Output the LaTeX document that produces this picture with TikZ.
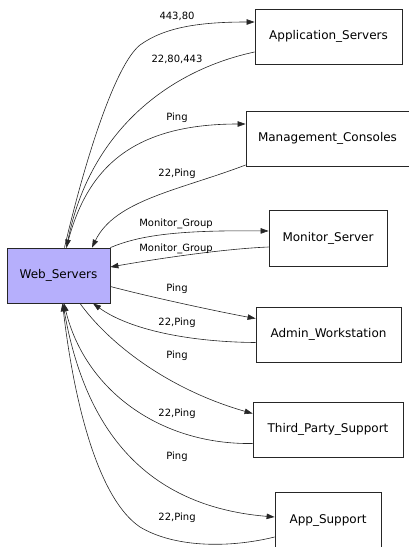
\documentclass[tikz,border=0pt]{standalone}
\usepackage{fontspec}
\setmainfont{DejaVu Sans}
\usetikzlibrary{arrows.meta}
\definecolor{webfill}{RGB}{182,175,252}

\begin{document}
\begin{tikzpicture}
        [x=1pt, y=-1pt,
        host/.style={draw=black!85, line width=0.8pt, minimum height=55pt, inner sep=0pt, font=\fontsize{12}{14}\selectfont},
        port/.style={font=\fontsize{10}{12}\selectfont, inner sep=1pt},
        link/.style={draw=black!85, line width=0.6pt, -{Triangle[length=8pt,width=5.5pt]}},
        ]
        \useasboundingbox (0,0) rectangle (408,547);

        % hosts
        \node[host, fill=webfill, minimum width=103pt] (web) at (58.5,275.5) {Web\_Servers};
        \node[host, minimum width=147pt] (apps) at (328.5,36.5) {Application\_Servers};
        \node[host, minimum width=163pt] (mgmt) at (327.5,138.5) {Management\_Consoles};
        \node[host, minimum width=118pt, minimum height=56pt] (mon) at (328,238) {Monitor\_Server};
        \node[host, minimum width=145pt] (admin) at (328.5,334.5) {Admin\_Workstation};
        \node[host, minimum width=150pt] (third) at (328,429.5) {Third\_Party\_Support};
        \node[host, minimum width=106pt, minimum height=57pt] (appsup) at (328,520.5) {App\_Support};

        % allowed traffic
        \draw[link] ([xshift=6pt]web.north) .. controls (85,160) and (115,65) .. (140,45)
          .. controls (165,27) and (200,22) .. ([yshift=14.5pt]apps.west);
        \draw[link] ([yshift=-15.5pt]apps.west) .. controls (170,70) and (90,130) .. ([xshift=8pt]web.north);
        \draw[link] ([xshift=8pt]web.north) .. controls (85,170) and (130,124) .. ([yshift=14.5pt]mgmt.west);
        \draw[link] ([yshift=-26.5pt]mgmt.west) .. controls (180,190) and (115,200) .. ([xshift=33.5pt]web.north);
        \draw[link] (web.north east) .. controls (140,235) and (180,230) .. ([yshift=7pt]mon.west);
        \draw[link] ([yshift=-9pt]mon.west) .. controls (220,249) and (150,260) .. ([yshift=8.5pt]web.east);
        \draw[link] ([yshift=-11pt]web.east) .. controls (150,297) and (220,312) .. ([yshift=16pt]admin.west);
        \draw[link] ([yshift=-8pt]admin.west) .. controls (190,342) and (130,330) .. ([xshift=34.5pt]web.south);
        \draw[link] ([xshift=21.5pt]web.south) .. controls (110,345) and (170,390) .. ([yshift=16pt]third.west);
        \draw[link] ([yshift=-14pt]third.west) .. controls (160,445) and (85,390) .. ([xshift=5.5pt]web.south);
        \draw[link] ([xshift=4.5pt]web.south) .. controls (80,410) and (130,505) .. ([yshift=3.5pt]appsup.west);
        \draw[link] ([yshift=-16.5pt]appsup.west) .. controls (230,548) and (175,548) .. (140,527)
          .. controls (100,500) and (75,410) .. ([xshift=4pt]web.south);

        % port labels
        \node[port] (p1) at (177,16) {443,80};
        \node[port] (p2) at (177,59) {22,80,443};
        \node[port] (p3) at (177,118) {Ping};
        \node[port] (p4) at (177,174) {22,Ping};
        \node[port] (p5) at (176,224) {Monitor\_Group};
        \node[port] (p6) at (176,249) {Monitor\_Group};
        \node[port] (p7) at (177,289) {Ping};
        \node[port] (p8) at (177,323) {22,Ping};
        \node[port] (p9) at (177,356) {Ping};
        \node[port] (p10) at (177,414) {22,Ping};
        \node[port] (p11) at (177,457) {Ping};
        \node[port] (p12) at (177,518) {22,Ping};
        \end{tikzpicture}
\end{document}
